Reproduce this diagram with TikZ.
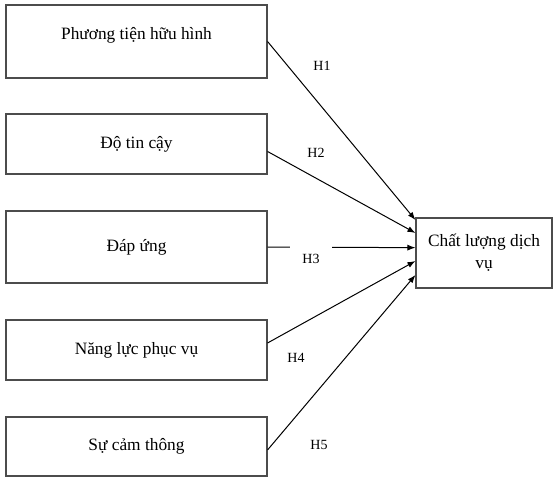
\documentclass[tikz,border=0pt]{standalone}
\usepackage{fontspec}
\setmainfont{Liberation Serif}
\usetikzlibrary{arrows.meta,positioning}

\begin{document}
\begin{tikzpicture}[
		x=0.75pt,y=-0.75pt,
		factor/.style={draw=black!70,line width=0.8pt,minimum width=195.75pt,font=\fontsize{13pt}{16.5pt}\selectfont,align=center},
		hlabel/.style={fill=white,minimum width=32pt,minimum height=12pt,font=\fontsize{10.5pt}{12pt}\selectfont},
		arr/.style={-{Latex[length=6pt,width=4.5pt]},line width=0.75pt}
	]
	\useasboundingbox (0,0) rectangle (553,477);
	\node[factor,minimum height=54.75pt,text depth=12pt] (1) at (136.5,41.5) {Phương tiện hữu hình};
	\node[factor,minimum height=45pt] (2) at (136.5,144) {Độ tin cậy};
	\node[factor,minimum height=54pt] (3) at (136.5,247) {Đáp ứng};
	\node[factor,minimum height=45pt] (4) at (136.5,350) {Năng lực phục vụ};
	\node[factor,minimum height=44.25pt] (5) at (136.5,446.5) {Sự cảm thông};
	\node[factor,minimum width=102pt,minimum height=52.5pt] (6) at (484,253) {Chất lượng dịch\\vụ};

	\draw[arr] (1.east) to ([yshift=24.75pt]6.west);
	\draw[arr] ([yshift=-5.6pt]2.east) to ([yshift=15pt]6.west);
	\draw[arr] (3.east) to ([yshift=4pt]6.west);
	\draw[arr] ([yshift=5.25pt]4.east) to ([yshift=-6pt]6.west);
	\draw[arr] ([yshift=-2.6pt]5.east) to ([yshift=-16.5pt]6.west);

	\node[hlabel] (h1) at (322,66) {H1};
	\node[hlabel] (h2) at (316,153) {H2};
	\node[hlabel,minimum height=19.5pt] (h3) at (311,259) {H3};
	\node[hlabel] (h4) at (296,358) {H4};
	\node[hlabel] (h5) at (319,445) {H5};
\end{tikzpicture}
\end{document}
